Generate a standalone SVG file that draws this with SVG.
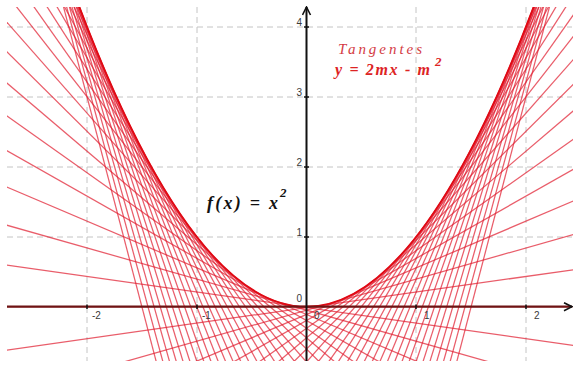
<svg xmlns="http://www.w3.org/2000/svg" width="573" height="365" viewBox="0 0 573 365">
<defs>
<style>
.grid{stroke:#c4c4c4;stroke-width:1;stroke-dasharray:6 4;fill:none}
.tan line{stroke:#e01f30;stroke-opacity:0.72;stroke-width:1.25;vector-effect:non-scaling-stroke}
.par{fill:none;stroke:#e00a14;stroke-width:1.8;vector-effect:non-scaling-stroke}
.tick{stroke:#111;stroke-width:1.5}
.lbl{font-family:"Liberation Sans",Arial,sans-serif;font-size:10px;fill:#3a3a3a}
.math{font-family:"Liberation Serif","Times New Roman",serif;font-style:italic}
</style>
<clipPath id="plot"><rect x="7" y="7" width="566" height="354"/></clipPath>
<marker id="arrow" viewBox="0 0 10 10" refX="9" refY="5" markerWidth="10" markerHeight="10" markerUnits="userSpaceOnUse" orient="auto">
<path d="M1,1 L9,5 L1,9" fill="none" stroke="#111" stroke-width="1.6"/>
</marker>
</defs>
<rect width="573" height="365" fill="#ffffff"/>
<g id="grid">
<line class="grid" x1="7" y1="27" x2="572" y2="27"/>
<line class="grid" x1="7" y1="97" x2="572" y2="97"/>
<line class="grid" x1="7" y1="167" x2="572" y2="167"/>
<line class="grid" x1="7" y1="237" x2="572" y2="237"/>
<line class="grid" x1="87" y1="7" x2="87" y2="361"/>
<line class="grid" x1="197" y1="7" x2="197" y2="361"/>
<line class="grid" x1="416" y1="7" x2="416" y2="361"/>
<line class="grid" x1="526" y1="7" x2="526" y2="361"/>
</g>
<g id="tangents" clip-path="url(#plot)">
<g class="tan" transform="matrix(109.75 0 0 -70 306.5 306.7)">
<line x1="-2.8" y1="0" x2="2.45" y2="0"/>
<line x1="-2.8" y1="-0.6346" x2="2.45" y2="0.5321"/>
<line x1="-2.8" y1="-1.2938" x2="2.45" y2="1.0395"/>
<line x1="-2.8" y1="-1.9778" x2="2.45" y2="1.5222"/>
<line x1="-2.8" y1="-2.6864" x2="2.45" y2="1.9802"/>
<line x1="-2.8" y1="-3.4198" x2="2.45" y2="2.4136"/>
<line x1="-2.8" y1="-4.1778" x2="2.45" y2="2.8222"/>
<line x1="-2.8" y1="-4.9605" x2="2.45" y2="3.2062"/>
<line x1="-2.8" y1="-5.7679" x2="2.45" y2="3.5654"/>
<line x1="-2.8" y1="-6.6" x2="2.45" y2="3.9"/>
<line x1="-2.8" y1="-7.4568" x2="2.45" y2="4.2099"/>
<line x1="-2.8" y1="-8.3383" x2="2.45" y2="4.4951"/>
<line x1="-2.8" y1="-9.2444" x2="2.45" y2="4.7556"/>
<line x1="-2.8" y1="-10.1753" x2="2.45" y2="4.9914"/>
<line x1="-2.8" y1="-11.1309" x2="2.45" y2="5.2025"/>
<line x1="-2.8" y1="-12.1111" x2="2.45" y2="5.3889"/>
<line x1="-2.8" y1="-13.1160" x2="2.45" y2="5.5506"/>
<line x1="-2.8" y1="-14.1457" x2="2.45" y2="5.6877"/>
<line x1="-2.8" y1="-15.2" x2="2.45" y2="5.8"/>
<line x1="-2.8" y1="-16.2790" x2="2.45" y2="5.8877"/>
<line x1="-2.8" y1="-17.3827" x2="2.45" y2="5.9506"/>
<line x1="-2.8" y1="-18.5111" x2="2.45" y2="5.9889"/>
<line x1="-2.8" y1="-19.6642" x2="2.45" y2="6.0025"/>
<line x1="-2.8" y1="-20.8420" x2="2.45" y2="5.9914"/>
<line x1="-2.8" y1="-22.0444" x2="2.45" y2="5.9556"/>
<line x1="-2.8" y1="-23.2716" x2="2.45" y2="5.8951"/>
<line x1="-2.8" y1="-24.5235" x2="2.45" y2="5.8099"/>
<line x1="-2.8" y1="-25.8" x2="2.45" y2="5.7"/>
<line x1="-2.8" y1="0.6099" x2="2.45" y2="-0.5568"/>
<line x1="-2.8" y1="1.1951" x2="2.45" y2="-1.1383"/>
<line x1="-2.8" y1="1.7556" x2="2.45" y2="-1.7444"/>
<line x1="-2.8" y1="2.2914" x2="2.45" y2="-2.3753"/>
<line x1="-2.8" y1="2.8025" x2="2.45" y2="-3.0309"/>
<line x1="-2.8" y1="3.2889" x2="2.45" y2="-3.7111"/>
<line x1="-2.8" y1="3.7506" x2="2.45" y2="-4.4160"/>
<line x1="-2.8" y1="4.1877" x2="2.45" y2="-5.1457"/>
<line x1="-2.8" y1="4.6" x2="2.45" y2="-5.9"/>
<line x1="-2.8" y1="4.9877" x2="2.45" y2="-6.6790"/>
<line x1="-2.8" y1="5.3506" x2="2.45" y2="-7.4827"/>
<line x1="-2.8" y1="5.6889" x2="2.45" y2="-8.3111"/>
<line x1="-2.8" y1="6.0025" x2="2.45" y2="-9.1642"/>
<line x1="-2.8" y1="6.2914" x2="2.45" y2="-10.0420"/>
<line x1="-2.8" y1="6.5556" x2="2.45" y2="-10.9444"/>
<line x1="-2.8" y1="6.7951" x2="2.45" y2="-11.8716"/>
<line x1="-2.8" y1="7.0099" x2="2.45" y2="-12.8235"/>
<line x1="-2.8" y1="7.2" x2="2.45" y2="-13.8"/>
<line x1="-2.8" y1="7.3654" x2="2.45" y2="-14.8012"/>
<line x1="-2.8" y1="7.5062" x2="2.45" y2="-15.8272"/>
<line x1="-2.8" y1="7.6222" x2="2.45" y2="-16.8778"/>
<line x1="-2.8" y1="7.7136" x2="2.45" y2="-17.9531"/>
<line x1="-2.8" y1="7.7803" x2="2.45" y2="-19.0531"/>
<line x1="-2.8" y1="7.8222" x2="2.45" y2="-20.1778"/>
<line x1="-2.8" y1="7.8395" x2="2.45" y2="-21.3272"/>
<line x1="-2.8" y1="7.8321" x2="2.45" y2="-22.5012"/>
<line x1="-2.8" y1="7.8" x2="2.45" y2="-23.7"/>
<path class="par" d="M-2.2 4.84 Q0 -4.84 2.2 4.84"/>
</g>
</g>
<g id="axes">
<line x1="7" y1="306.7" x2="572" y2="306.7" stroke="#6e1414" stroke-width="2.2" marker-end="url(#arrow)"/>
<line x1="306.5" y1="361" x2="306.5" y2="7" stroke="#111" stroke-width="2" marker-end="url(#arrow)"/>
<line class="tick" x1="87" y1="304.5" x2="87" y2="309"/>
<line class="tick" x1="197" y1="304.5" x2="197" y2="309"/>
<line class="tick" x1="416" y1="304.5" x2="416" y2="309"/>
<line class="tick" x1="526" y1="304.5" x2="526" y2="309"/>
<line class="tick" x1="304" y1="27" x2="309" y2="27"/>
<line class="tick" x1="304" y1="97" x2="309" y2="97"/>
<line class="tick" x1="304" y1="167" x2="309" y2="167"/>
<line class="tick" x1="304" y1="237" x2="309" y2="237"/>
</g>
<g id="tick-labels">
<text class="lbl" x="92" y="319">-2</text>
<text class="lbl" x="202" y="319">-1</text>
<text class="lbl" x="314" y="319">0</text>
<text class="lbl" x="424" y="319">1</text>
<text class="lbl" x="534" y="319">2</text>
<text class="lbl" x="302" y="26" text-anchor="end">4</text>
<text class="lbl" x="302" y="96" text-anchor="end">3</text>
<text class="lbl" x="302" y="166" text-anchor="end">2</text>
<text class="lbl" x="302" y="236" text-anchor="end">1</text>
<text class="lbl" x="302" y="302" text-anchor="end">0</text>
</g>
<g id="label-f">
<text class="math" x="207" y="209" font-size="18" font-weight="bold" fill="#111" textLength="71" lengthAdjust="spacing">f(x) = x</text>
<text class="math" x="280" y="197" font-size="13" font-weight="bold" fill="#111">2</text>
</g>
<g id="label-tangentes">
<text class="math" x="338" y="54" font-size="15" fill="#d43c44" textLength="84" lengthAdjust="spacing">Tangentes</text>
<text class="math" x="335" y="75" font-size="16" font-weight="bold" fill="#dd2424" textLength="95" lengthAdjust="spacing">y = 2mx - m</text>
<text class="math" x="435" y="66" font-size="13" font-weight="bold" fill="#dd2424">2</text>
</g>
</svg>
